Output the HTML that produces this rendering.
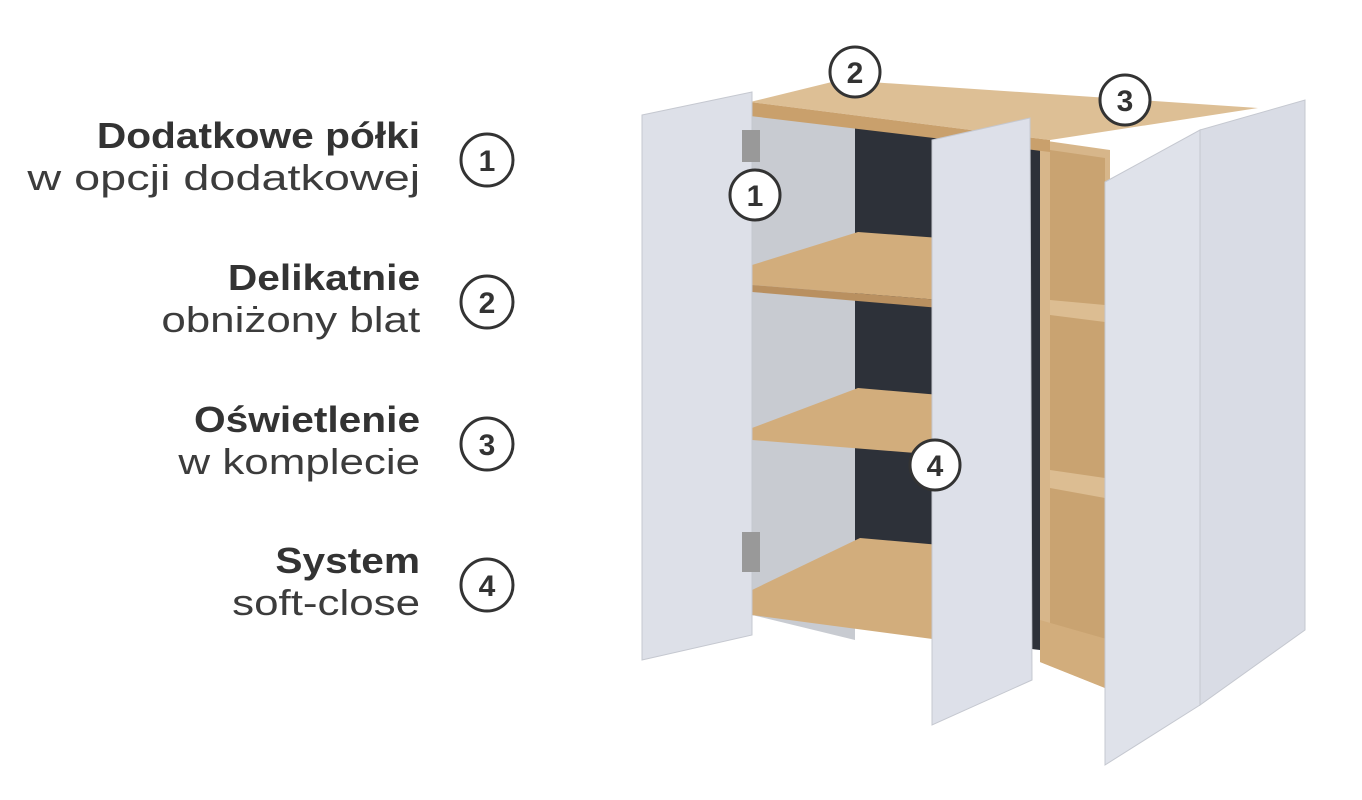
<!DOCTYPE html>
<html><head><meta charset="utf-8"><style>
html,body{margin:0;padding:0;background:#fff;width:1362px;height:800px;overflow:hidden;font-family:"Liberation Sans","DejaVu Sans",sans-serif;color:#333}
.t{position:absolute;right:942px;text-align:right;font-size:36px;line-height:42px}
.t b{font-weight:bold;color:#333;display:inline-block;transform:scaleX(1.13);transform-origin:right center}
.t span{color:#3c3c3c;display:inline-block;transform:scaleX(1.22);transform-origin:right center}
</style></head><body>
<div class="t" style="top:115px"><b>Dodatkowe półki</b><br><span style="transform:scaleX(1.3)">w opcji dodatkowej</span></div>
<div class="t" style="top:257px"><b>Delikatnie</b><br><span>obniżony blat</span></div>
<div class="t" style="top:399px"><b>Oświetlenie</b><br><span>w komplecie</span></div>
<div class="t" style="top:540px"><b>System</b><br><span>soft-close</span></div>
<svg width="1362" height="800" style="position:absolute;left:0;top:0" font-family="Liberation Sans, sans-serif">
<g fill="#fff" stroke="#333" stroke-width="3">
<circle cx="487" cy="160" r="26"/><circle cx="487" cy="302" r="26"/><circle cx="487" cy="444" r="26"/><circle cx="487" cy="585" r="26"/>
</g>
<g font-size="30" font-weight="bold" fill="#333" text-anchor="middle">
<text x="487" y="171">1</text><text x="487" y="313">2</text><text x="487" y="455">3</text><text x="487" y="596">4</text>
</g>
<polygon points="1040,140 1110,150 1110,690 1040,662" fill="#d7b68a"/>
<polygon points="1050,150 1105,158 1105,680 1050,655" fill="#c9a371"/>
<polygon points="1050,300 1105,305 1105,322 1050,315" fill="#dcbd92"/>
<polygon points="1050,470 1105,478 1105,498 1050,488" fill="#dcbd92"/>
<polygon points="752,112 1040,145 1040,650 752,615" fill="#2d3139"/>
<polygon points="752,112 855,124 855,640 752,615" fill="#c8cbd1"/>
<polygon points="752,265 858,232 940,238 940,300 752,285" fill="#d2ad7c"/>
<polygon points="752,285 940,300 940,308 752,292" fill="#b99060"/>
<polygon points="752,428 858,388 940,395 940,455 752,440" fill="#d2ad7c"/>
<polygon points="752,590 860,538 940,545 940,640 752,615" fill="#d2ad7c"/>
<polygon points="1040,620 1110,640 1110,690 1040,662" fill="#d2ad7c"/>
<polygon points="750,102 840,80 1258,108 1050,140" fill="#ddbf95"/>
<polygon points="750,102 1050,140 1050,152 750,116" fill="#c9a06c"/>
<polygon points="642,115 752,92 752,635 642,660" fill="#dde0e8" stroke="#c5c8d0"/>
<polygon points="932,140 1030,118 1032,680 932,725" fill="#dde0e9" stroke="#c5c8d0"/>
<polygon points="1105,182 1200,130 1200,705 1105,765" fill="#dfe2ea" stroke="#c5c8d0"/>
<polygon points="1200,130 1305,100 1305,630 1200,705" fill="#d9dce5" stroke="#c5c8d0"/>
<rect x="742" y="130" width="18" height="32" fill="#999"/>
<rect x="742" y="532" width="18" height="40" fill="#999"/>
<g fill="#fff" stroke="#333" stroke-width="3">
<circle cx="855" cy="72" r="25"/><circle cx="1125" cy="100" r="25"/><circle cx="755" cy="195" r="25"/><circle cx="935" cy="465" r="25"/>
</g>
<g font-size="30" font-weight="bold" fill="#333" text-anchor="middle">
<text x="855" y="83">2</text><text x="1125" y="111">3</text><text x="755" y="206">1</text><text x="935" y="476">4</text>
</g>
</svg>
</body></html>
